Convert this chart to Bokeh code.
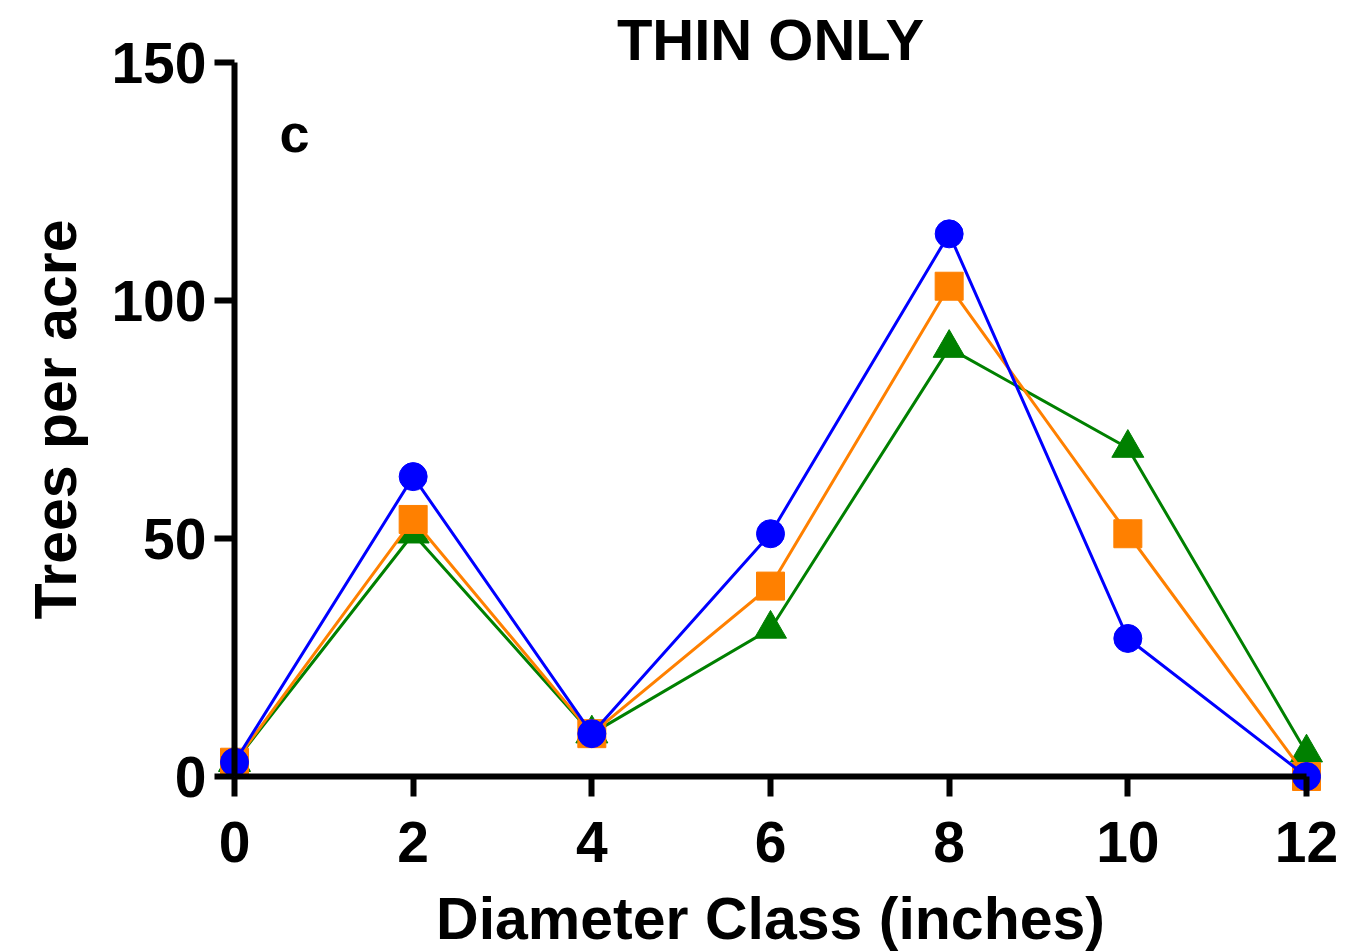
from bokeh.plotting import figure
from bokeh.models import Range1d, FixedTicker, Label
from bokeh.embed import file_html
from bokeh.resources import INLINE

# Data
diameter = [0, 2, 4, 6, 8, 10, 12]
series_blue = [3, 63, 9, 51, 114, 29, 0]
series_orange = [3, 54, 9, 40, 103, 51, 0]
series_green = [3, 51, 9, 31, 90, 69, 5]
x_ticks = [0, 2, 4, 6, 8, 10, 12]
y_ticks = [0, 50, 100, 150]
title_text = "THIN ONLY"
panel_letter = "c"

FONT = "Liberation Sans"

W, H = 1348, 952
# pixel positions of the data box (x 0..12, y 0..150)
X0_PX, X12_PX, Y0_PX, Y150_PX = 234, 1306, 776, 62
xs = (X12_PX - X0_PX) / 12.0
ys = (Y0_PX - Y150_PX) / 150.0
x_start = -X0_PX / xs
x_end = 12 + (W - X12_PX) / xs
y_start = -(H - Y0_PX) / ys
y_end = 150 + Y150_PX / ys

p = figure(width=W, height=H, output_backend="svg", toolbar_location=None,
           x_range=Range1d(x_start, x_end), y_range=Range1d(y_start, y_end),
           min_border_left=0, min_border_right=0, min_border_top=0, min_border_bottom=0)
p.outline_line_color = None
p.xgrid.visible = False
p.ygrid.visible = False
p.background_fill_color = "white"
p.border_fill_color = "white"

for ax in (p.xaxis[0], p.yaxis[0]):
    ax.fixed_location = 0
    ax.axis_line_width = 6
    ax.axis_line_color = "black"
    ax.major_tick_line_width = 6
    ax.major_tick_line_color = "black"
    ax.major_tick_out = 20
    ax.major_tick_in = 0
    ax.minor_tick_line_color = None
    ax.major_label_text_font = FONT
    ax.major_label_text_font_style = "bold"
    ax.major_label_text_font_size = "57px"
    ax.major_label_text_color = "black"
    ax.axis_label_text_font = FONT
    ax.axis_label_text_font_style = "bold"
    ax.axis_label_text_font_size = "59px"
    ax.axis_label_text_color = "black"

p.xaxis[0].bounds = (0, 12)
p.yaxis[0].bounds = (0, 150)
p.xaxis[0].ticker = FixedTicker(ticks=x_ticks)
p.yaxis[0].ticker = FixedTicker(ticks=y_ticks)
p.xaxis[0].axis_label = "Diameter Class (inches)"
p.yaxis[0].axis_label = "Trees per acre"
p.xaxis[0].major_label_standoff = 25
p.yaxis[0].major_label_standoff = 8
p.xaxis[0].axis_label_standoff = 21
p.yaxis[0].axis_label_standoff = 19

# series: green bottom, orange, blue top
p.line(diameter, series_green, line_color="#008000", line_width=3)
p.scatter(diameter, series_green, marker="triangle", size=32, fill_color="#008000", line_color="#008000")
p.line(diameter, series_orange, line_color="#FF8000", line_width=3)
p.scatter(diameter, series_orange, marker="square", size=28, fill_color="#FF8000", line_color="#FF8000")
p.line(diameter, series_blue, line_color="#0000FF", line_width=3)
p.scatter(diameter, series_blue, marker="circle", size=28, fill_color="#0000FF", line_color="#0000FF")

# title (placed above the data box)
p.add_layout(Label(x=6, y=150 + 23 / ys, text=title_text, text_font=FONT, text_font_style="bold",
                   text_font_size="58px", text_align="center", text_baseline="alphabetic",
                   text_color="black"))
# panel letter
p.add_layout(Label(x=0.672, y=131.6 + 17 / ys, text=panel_letter, text_font=FONT, text_font_style="bold",
                   text_font_size="54px", text_align="center", text_baseline="alphabetic",
                   text_color="black"))

open("out.html", "w").write(file_html(p, INLINE))
